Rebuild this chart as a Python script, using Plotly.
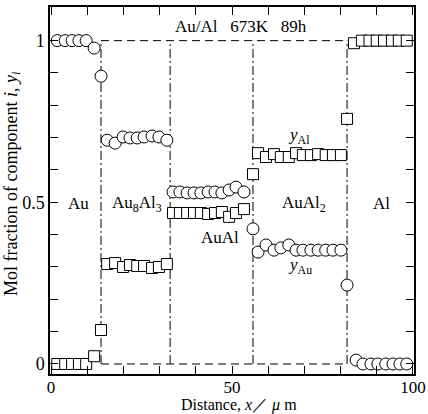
import plotly.graph_objects as go

# ---------------- data ----------------
au_x = [1.7, 3.9, 5.8, 7.7, 9.7, 11.9, 13.8,
        15.5, 17.7, 19.9, 21.8, 23.8, 25.7, 27.9, 29.8, 32.0,
        33.7, 35.6, 37.6, 39.5, 41.4, 43.4, 45.3, 47.2, 49.2, 51.1, 53.3,
        55.8,
        57.2, 59.4, 61.6, 63.5, 65.7, 67.7, 69.6, 71.8, 73.8, 75.9, 77.9, 80.1,
        81.8,
        84.3, 86.2, 88.4, 90.3, 92.5, 94.5, 96.4, 98.3]
au_y = [1, 1, 1, 1, 1, 0.977, 0.890,
        0.692, 0.683, 0.702, 0.699, 0.699, 0.702, 0.705, 0.702, 0.692,
        0.532, 0.532, 0.529, 0.529, 0.529, 0.532, 0.532, 0.529, 0.538, 0.547, 0.532,
        0.418,
        0.346, 0.368, 0.352, 0.359, 0.368, 0.352, 0.352, 0.352, 0.352, 0.352, 0.352, 0.352,
        0.244,
        0.012, 0, 0, 0, 0, 0, 0, 0]

al_x = [1.7, 3.9, 5.8, 7.7, 9.7, 11.9, 13.8,
        15.5, 17.7, 19.9, 21.8, 23.8, 25.7, 27.9, 29.8, 32.0,
        33.7, 35.6, 37.6, 39.5, 41.4, 43.4, 45.3, 47.2, 49.2, 51.1, 53.3,
        55.8,
        57.2, 59.4, 61.6, 63.5, 65.7, 67.7, 69.6, 71.8, 73.8, 75.9, 77.9, 80.1,
        81.8,
        83.7, 85.9, 88.0, 90.0, 92.0, 94.2, 96.1, 98.3]
al_y = [0, 0, 0, 0, 0, 0.024, 0.105,
        0.309, 0.312, 0.300, 0.306, 0.303, 0.303, 0.297, 0.300, 0.309,
        0.467, 0.467, 0.467, 0.467, 0.467, 0.464, 0.467, 0.470, 0.455, 0.467, 0.479,
        0.587,
        0.652, 0.640, 0.649, 0.640, 0.640, 0.652, 0.646, 0.646, 0.649, 0.646, 0.646, 0.646,
        0.758,
        0.992, 1, 1, 1, 1, 1, 1, 1]

# phase boundaries (µm) and ideal step levels
boundaries = [13.8, 32.9, 55.8, 81.8]
levels = [0, 1]

phase_labels = ["Au", "Au<sub>8</sub>Al<sub>3</sub>", "AuAl", "AuAl<sub>2</sub>", "Al"]
phase_label_x = [7.5, 23.8, 46.7, 69.9, 91.2]
phase_label_y = [0.495, 0.495, 0.39, 0.495, 0.495]

x_tickvals = list(range(0, 101, 10))
x_ticktext = ["0", "", "", "", "", "50", "", "", "", "", "100"]
y_tickvals = [i / 10 for i in range(0, 11)]
y_ticktext = ["0", "", "", "", "", "0.5", "", "", "", "", "1"]

FONT = "Liberation Serif"

fig = go.Figure()

# dashed horizontal lines at 0 and 1 between first and last boundary
for lv in levels:
    fig.add_trace(go.Scatter(x=[boundaries[0], boundaries[-1]], y=[lv, lv], mode="lines",
                             line=dict(color="black", width=1, dash="8px,5px"),
                             showlegend=False, hoverinfo="skip"))
# vertical dash-dot boundaries
for b in boundaries:
    fig.add_trace(go.Scatter(x=[b, b], y=[levels[0], levels[1]], mode="lines",
                             line=dict(color="black", width=1, dash="9px,3px,2px,3px"),
                             showlegend=False, hoverinfo="skip"))

fig.add_trace(go.Scatter(x=au_x, y=au_y, mode="markers",
                         marker=dict(symbol="circle", size=12, color="white",
                                     line=dict(color="black", width=1)),
                         showlegend=False))
fig.add_trace(go.Scatter(x=al_x, y=al_y, mode="markers",
                         marker=dict(symbol="square", size=11, color="white",
                                     line=dict(color="black", width=1)),
                         showlegend=False))

annotations = []
for t, x, y in zip(phase_labels, phase_label_x, phase_label_y):
    annotations.append(dict(x=x, y=y, xref="x", yref="y", text=t, showarrow=False,
                            font=dict(family=FONT, size=17, color="black")))
annotations.append(dict(x=68.5, y=0.705, xref="x", yref="y", text="<i>y</i><sub>Al</sub>",
                        showarrow=False, font=dict(family=FONT, size=17, color="black")))
annotations.append(dict(x=68.7, y=0.303, xref="x", yref="y", text="<i>y</i><sub>Au</sub>",
                        showarrow=False, font=dict(family=FONT, size=17, color="black")))
annotations.append(dict(x=52.5, y=1.045, xref="x", yref="y",
                        text="Au/Al&nbsp;&nbsp;&nbsp;673K&nbsp;&nbsp;&nbsp;89h",
                        showarrow=False, font=dict(family=FONT, size=17, color="black")))
# axis titles
annotations.append(dict(xref="x domain", yref="y domain", x=-0.105, y=0.52,
                        text="Mol fraction of component <i>i</i>, <i>y<sub>i</sub></i>",
                        textangle=-90, showarrow=False, xanchor="center", yanchor="middle",
                        font=dict(family=FONT, size=18, color="black")))
annotations.append(dict(xref="x domain", yref="y domain", x=0.52, y=-0.085,
                        text="Distance, <i>x</i>／ <i>μ</i> m",
                        showarrow=False, xanchor="center", yanchor="middle",
                        font=dict(family=FONT, size=16, color="black")))

fig.update_layout(
    width=428, height=414,
    margin=dict(l=50, r=14, t=7, b=40),
    paper_bgcolor="white", plot_bgcolor="white",
    font=dict(family=FONT, size=18, color="black"),
    annotations=annotations,
    showlegend=False,
)
fig.update_xaxes(range=[-0.3, 100.3], tickmode="array", tickvals=x_tickvals, ticktext=x_ticktext,
                 ticks="inside", ticklen=8, tickwidth=1, tickcolor="black",
                 showline=True, linecolor="black", linewidth=1.5, mirror="ticks",
                 showgrid=False, zeroline=False, automargin=False, ticklabelstandoff=-3,
                 tickfont=dict(family=FONT, size=17, color="black"))
fig.update_yaxes(range=[-0.031, 1.104], tickmode="array", tickvals=y_tickvals, ticktext=y_ticktext,
                 ticks="inside", ticklen=8, tickwidth=1, tickcolor="black",
                 showline=True, linecolor="black", linewidth=1.5, mirror="ticks",
                 showgrid=False, zeroline=False, automargin=False,
                 tickfont=dict(family=FONT, size=18, color="black"))

fig.write_html("out.html")
